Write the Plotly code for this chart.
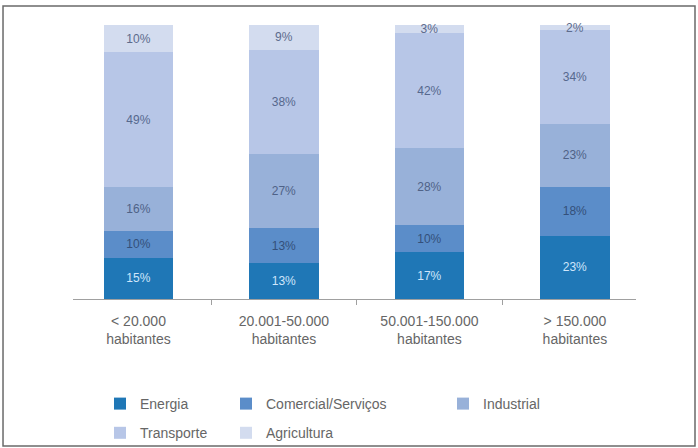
import plotly.graph_objects as go

categories = ["< 20.000<br>habitantes", "20.001-50.000<br>habitantes",
              "50.001-150.000<br>habitantes", "> 150.000<br>habitantes"]
energia = [15, 13, 17, 23]
comercial = [10, 13, 10, 18]
industrial = [16, 27, 28, 23]
transporte = [49, 38, 42, 34]
agricultura = [10, 9, 3, 2]

series = [
    ("Energia", energia, "#1f77b6", "#cfe6fb", "legend", "g1"),
    ("Comercial/Serviços", comercial, "#5b8dc9", "#34507a", "legend2", "g2"),
    ("Industrial", industrial, "#98b1d9", "#4f6287", "legend3", "g3"),
    ("Transporte", transporte, "#b7c6e7", "#56688e", "legend", "g4"),
    ("Agricultura", agricultura, "#d3dcef", "#5d6b8c", "legend2", "g5"),
]

fig = go.Figure()
for name, vals, col, tcol, leg, grp in series:
    fig.add_trace(go.Bar(
        x=categories, y=vals, name=name,
        marker=dict(color=col, line=dict(width=0)),
        width=0.48,
        text=[f"{v}%" for v in vals],
        textposition="inside", insidetextanchor="middle",
        constraintext="none", cliponaxis=False,
        textfont=dict(size=12, color=tcol, family="Liberation Sans, Arial, sans-serif"),
        legend=leg, legendgroup=grp,
    ))

legend_common = dict(
    orientation="v", yref="container", yanchor="top", y=(448 - 388) / 448,
    xref="container", xanchor="left",
    font=dict(size=14, color="#666666", family="Liberation Sans, Arial, sans-serif"),
    bgcolor="rgba(0,0,0,0)", traceorder="grouped", tracegroupgap=8,
    itemclick=False,
)

fig.update_layout(
    width=698, height=448,
    margin=dict(l=73, r=62, t=25, b=149, autoexpand=False),
    paper_bgcolor="white", plot_bgcolor="white",
    barmode="stack",
    showlegend=True,
    uniformtext=dict(minsize=10, mode="show"),
    legend=dict(x=100 / 698, **legend_common),
    legend2=dict(x=226 / 698, **legend_common),
    legend3=dict(x=443 / 698, **legend_common),
    xaxis=dict(
        type="category", range=[-0.45, 3.42],
        showline=True, linecolor="#a0a0a0", linewidth=1,
        ticks="outside", tickson="boundaries", ticklen=5, tickcolor="#a0a0a0",
        ticklabelstandoff=9,
        tickfont=dict(size=14, color="#666666", family="Liberation Sans, Arial, sans-serif"),
        showgrid=False,
    ),
    yaxis=dict(range=[0, 100], visible=False, showgrid=False),
    shapes=[dict(
        type="rect", xref="paper", yref="paper",
        x0=-0.1243, x1=1.1048, y0=-0.5365, y1=1.0693,
        line=dict(color="#6a6a6a", width=1.5), fillcolor="rgba(0,0,0,0)",
        layer="below",
    )],
)

fig.write_html("out.html", config={"displayModeBar": False},
               post_script="document.body.style.margin='0px';document.body.style.overflow='hidden';")
